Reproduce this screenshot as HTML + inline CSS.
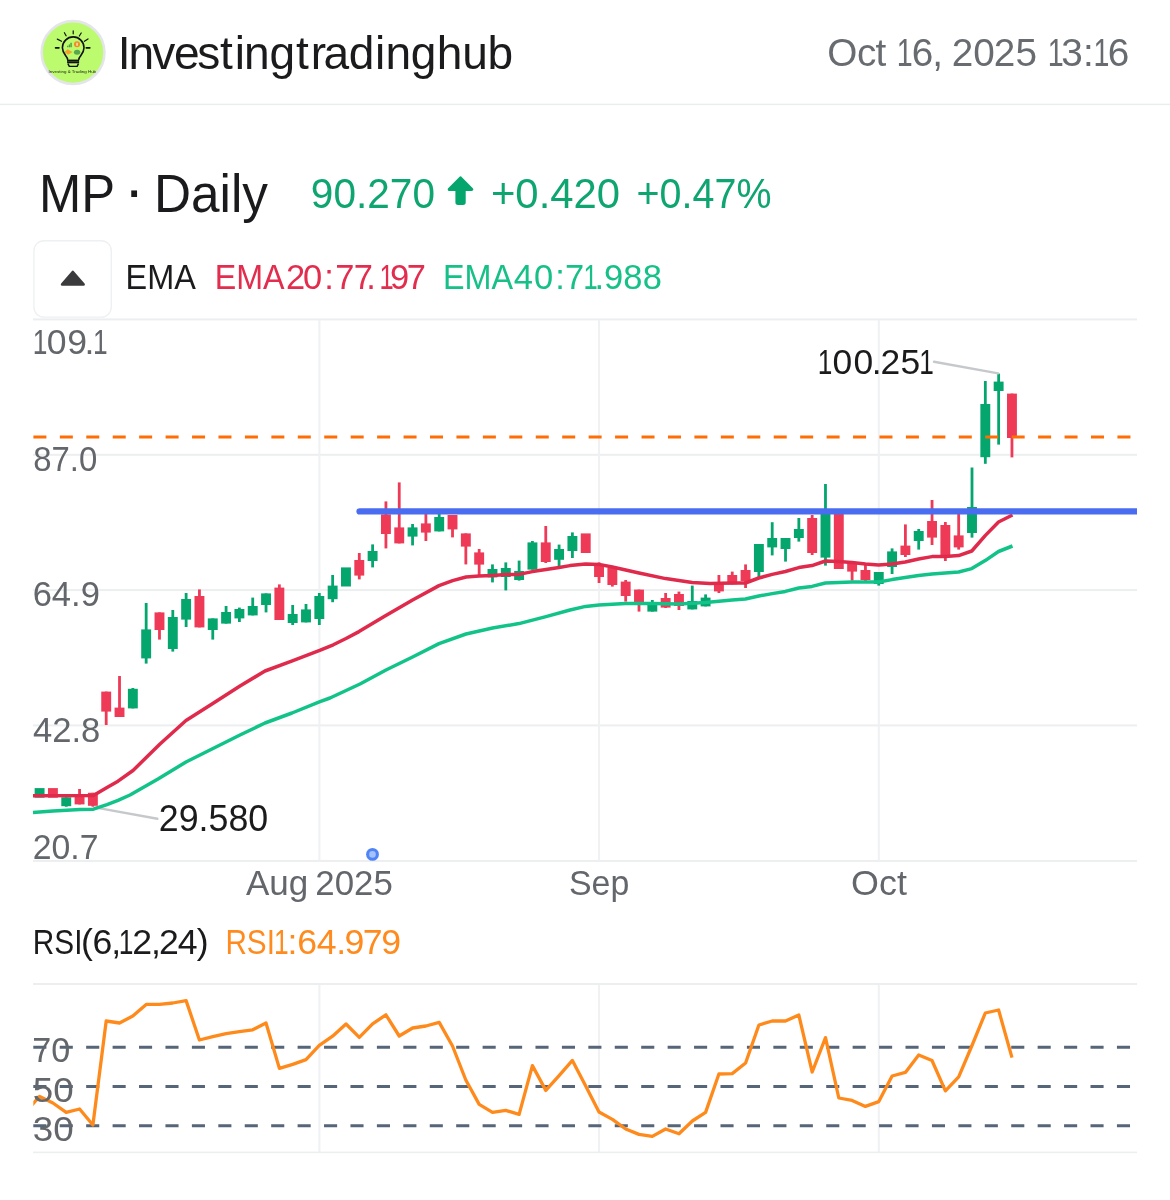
<!DOCTYPE html>
<html lang="en"><head><meta charset="utf-8"><title>MP Daily chart</title>
<style>html,body{margin:0;padding:0;background:#fff}body{width:1170px;height:1200px;overflow:hidden}svg{display:block}text{font-family:"Liberation Sans",sans-serif}</style>
</head><body>
<svg width="1170" height="1200" viewBox="0 0 1170 1200">
<rect width="1170" height="1200" fill="#fff"/>
<rect x="0" y="103.65" width="1170" height="1.5" fill="#eaedef"/>
<g>
<circle cx="73.05" cy="52.55" r="31.4" fill="#bdfb6e" stroke="#e3e5e8" stroke-width="2.6"/>
<g stroke="#111" stroke-linecap="round" fill="none">
<path d="M73.2 30.8V33.8M64.4 32.7L66.1 35.8M81.2 33L79.3 36M57.3 39.1L61.5 41.3M88 38.9L84.4 41.3" stroke-width="1.2"/>
<path d="M55.6 47.8H58.9M86.3 47.8H89.8" stroke-width="1.7"/>
<path d="M67.6 59.3C67.3 56.3 62.4 53.9 62.4 47.7A10.8 10.8 0 0 1 84 47.7C84 53.9 79.1 56.3 78.8 59.3" stroke-width="1.6"/>
</g>
<rect x="67.1" y="59.6" width="12" height="3.7" fill="#111"/>
<rect x="67.6" y="61.25" width="11" height="0.4" fill="#5d8f36"/>
<path d="M67.9 63.6L69.3 66.4H77.100L78.500 63.600" stroke="#111" stroke-width="1.4" stroke-linejoin="round" fill="none"/>
<path d="M67.2 47.300V45.700H68.300V47.300ZM68.800 47.300V44.400H69.900V47.300ZM70.400 47.300V42.800H71.700V47.300Z" fill="#3f8f3a"/>
<circle cx="77.000" cy="44.300" r="3.000" fill="#f58a1f"/>
<rect x="76.500" y="42.800" width="1.100" height="3.000" fill="#fff"/>
<path d="M64.500 52.000L67.600 49.300L72.500 52.000L68.000 54.800Z" fill="#f7a12a"/>
<ellipse cx="77.100" cy="52.200" rx="3.200" ry="2.500" fill="#57a84d"/>
<text x="48.600" y="73.100" font-size="3.500" fill="#1a1a1a" textLength="47.500" lengthAdjust="spacingAndGlyphs">Investing &amp; Trading Hub</text>
</g>

<rect x="33.9" y="240.7" width="77.4" height="76.4" rx="10" fill="#fff" stroke="#eef0f2" stroke-width="1.4"/>
<path d="M72.8 272.1 L62.2 284.4 L83.5 284.4 Z" fill="#3b3b3d" stroke="#3b3b3d" stroke-width="2.8" stroke-linejoin="round"/>
<g fill="#05a66e" stroke="#05a66e" stroke-linejoin="round"><path d="M460.5 178 L471.7 189.4 L449.3 189.4 Z" stroke-width="3.2"/><rect x="456.6" y="188" width="7.9" height="15.8" rx="1.5" stroke-width="2.4"/></g>
<rect x="33" y="318.40" width="1104" height="2.0" fill="#eceef0"/>
<rect x="33" y="453.80" width="1104" height="2.0" fill="#eceef0"/>
<rect x="33" y="589.10" width="1104" height="2.0" fill="#eceef0"/>
<rect x="33" y="724.40" width="1104" height="2.0" fill="#eceef0"/>
<rect x="33" y="859.90" width="1104" height="2.0" fill="#eceef0"/>
<rect x="318.40" y="319.4" width="2.0" height="541.50" fill="#eff1f3"/>
<rect x="318.40" y="984" width="2.0" height="168.40" fill="#eff1f3"/>
<rect x="598.00" y="319.4" width="2.0" height="541.50" fill="#eff1f3"/>
<rect x="598.00" y="984" width="2.0" height="168.40" fill="#eff1f3"/>
<rect x="877.80" y="319.4" width="2.0" height="541.50" fill="#eff1f3"/>
<rect x="877.80" y="984" width="2.0" height="168.40" fill="#eff1f3"/>
<rect x="33" y="983.00" width="1104" height="2.0" fill="#eceef0"/>
<rect x="33" y="1151.60" width="1104" height="1.6" fill="#eceef0"/>
<text y="65.50" font-size="38.71" fill="#686b70"><tspan x="827.31 857.00 875.43 903.61">Oct </tspan><tspan x="896.68" textLength="15.93" lengthAdjust="spacingAndGlyphs">1</tspan><tspan x="911.83 932.31 960.50 951.77 973.13 993.67 1015.58 1054.54">6, 2025 </tspan><tspan x="1047.68" textLength="15.93" lengthAdjust="spacingAndGlyphs">1</tspan><tspan x="1061.31 1083.12">3:</tspan><tspan x="1093.38" textLength="15.93" lengthAdjust="spacingAndGlyphs">1</tspan><tspan x="1107.73">6</tspan></text>
<text y="68.90" font-size="46.09" fill="#1b1b1d"><tspan x="117.75 128.43 152.29 174.02 197.29 220.02 234.64 244.03 269.48 296.12 310.87 323.57 348.70 374.89 385.43 410.83 436.68 462.24 487.48">Investingtradinghub</tspan></text>
<text y="353.60" font-size="35.57" fill="#63666b"><tspan x="32.74" textLength="14.64" lengthAdjust="spacingAndGlyphs">1</tspan><tspan x="46.81 67.29 84.60">09.</tspan><tspan x="93.04" textLength="14.64" lengthAdjust="spacingAndGlyphs">1</tspan></text>
<text y="289.20" font-size="34.49" fill="#1b1b1d"><tspan x="125.54" textLength="70.25" lengthAdjust="spacingAndGlyphs">EMA</tspan></text>
<text y="289.20" font-size="34.49" fill="#e22d4e"><tspan x="214.76" textLength="69.88" lengthAdjust="spacingAndGlyphs">EMA</tspan><tspan x="285.92 303.07 324.25 335.20 353.65 366.30">20:77.</tspan><tspan x="379.53" textLength="14.20" lengthAdjust="spacingAndGlyphs">1</tspan><tspan x="390.11 406.85">97</tspan></text>
<text y="289.20" font-size="34.49" fill="#16c088"><tspan x="443.05" textLength="70.09" lengthAdjust="spacingAndGlyphs">EMA</tspan><tspan x="513.72 534.12 555.35 564.90">40:7</tspan><tspan x="583.38" textLength="14.20" lengthAdjust="spacingAndGlyphs">1</tspan><tspan x="594.50 603.91 623.36 642.81">.988</tspan></text>
<text y="954.20" font-size="35.65" fill="#1b1b1d"><tspan x="32.81" textLength="49.66" lengthAdjust="spacingAndGlyphs">RSI</tspan><tspan x="81.04 92.40 111.19">(6,</tspan><tspan x="118.81" textLength="14.67" lengthAdjust="spacingAndGlyphs">1</tspan><tspan x="132.15 150.94 159.10 177.76 196.81">2,24)</tspan></text>
<text y="954.20" font-size="35.65" fill="#ff8b1e"><tspan x="225.42" textLength="49.50" lengthAdjust="spacingAndGlyphs">RSI</tspan><tspan x="274.11" textLength="14.67" lengthAdjust="spacingAndGlyphs">1</tspan><tspan x="287.50 297.20 316.81 336.35 344.42 362.79 381.17">:64.979</tspan></text>
<text fill="#1b1b1d"><tspan x="39.02" y="211.90" font-size="52.90" textLength="76.06" lengthAdjust="spacingAndGlyphs">MP</tspan><tspan> </tspan><tspan x="124.04" y="210.48" font-size="61.00">·</tspan><tspan> </tspan><tspan x="153.97" y="211.90" font-size="52.90" textLength="114.03" lengthAdjust="spacingAndGlyphs">Daily</tspan></text>
<text fill="#63666b"><tspan x="246.01" y="895.10" font-size="35.06" textLength="62.31" lengthAdjust="spacingAndGlyphs">Aug</tspan><tspan> </tspan><tspan x="315.34" y="895.10" font-size="35.29" textLength="77.52" lengthAdjust="spacingAndGlyphs">2025</tspan></text>
<text x="310.84" y="208.40" font-size="43.29" fill="#0ea570" textLength="124.15" lengthAdjust="spacingAndGlyphs">90.270</text>
<text x="490.94" y="208.40" font-size="43.29" fill="#0ea570" textLength="129.16" lengthAdjust="spacingAndGlyphs">+0.420</text>
<text x="636.56" y="208.40" font-size="43.29" fill="#0ea570" textLength="134.91" lengthAdjust="spacingAndGlyphs">+0.47%</text>
<text x="33.19" y="470.80" font-size="35.51" fill="#63666b" textLength="64.02" lengthAdjust="spacingAndGlyphs">87.0</text>
<text x="32.63" y="606.30" font-size="35.57" fill="#63666b" textLength="67.29" lengthAdjust="spacingAndGlyphs">64.9</text>
<text x="32.91" y="741.60" font-size="35.51" fill="#63666b" textLength="67.37" lengthAdjust="spacingAndGlyphs">42.8</text>
<text x="32.70" y="858.85" font-size="35.93" fill="#63666b" textLength="65.75" lengthAdjust="spacingAndGlyphs">20.7</text>
<text x="569.04" y="895.20" font-size="35.29" fill="#63666b" textLength="60.24" lengthAdjust="spacingAndGlyphs">Sep</text>
<text x="851.06" y="895.20" font-size="35.29" fill="#63666b" textLength="55.80" lengthAdjust="spacingAndGlyphs">Oct</text>
<g>
<rect x="34.65" y="788.1" width="9.9" height="9.6" fill="#04a66e"/>
<rect x="47.97" y="788.1" width="9.9" height="9.6" fill="#ee3a57"/>
<rect x="64.84" y="797.3" width="2.8" height="9.4" fill="#04a66e"/>
<rect x="61.29" y="797.3" width="9.9" height="8.9" fill="#04a66e"/>
<rect x="78.16" y="789.0" width="2.8" height="15.4" fill="#ee3a57"/>
<rect x="74.61" y="795.0" width="9.9" height="9.4" fill="#ee3a57"/>
<rect x="91.48" y="792.8" width="2.8" height="13.9" fill="#ee3a57"/>
<rect x="87.93" y="792.8" width="9.9" height="13.0" fill="#ee3a57"/>
<rect x="104.80" y="691.6" width="2.8" height="33.4" fill="#ee3a57"/>
<rect x="101.25" y="691.6" width="9.9" height="20.0" fill="#ee3a57"/>
<rect x="118.12" y="676.0" width="2.8" height="41.0" fill="#ee3a57"/>
<rect x="114.57" y="707.6" width="9.9" height="9.4" fill="#ee3a57"/>
<rect x="131.44" y="688.0" width="2.8" height="20.4" fill="#04a66e"/>
<rect x="127.89" y="688.8" width="9.9" height="19.6" fill="#04a66e"/>
<rect x="144.76" y="603.0" width="2.8" height="60.6" fill="#04a66e"/>
<rect x="141.21" y="629.4" width="9.9" height="29.0" fill="#04a66e"/>
<rect x="158.08" y="612.4" width="2.8" height="27.2" fill="#ee3a57"/>
<rect x="154.53" y="612.4" width="9.9" height="17.6" fill="#ee3a57"/>
<rect x="171.40" y="610.0" width="2.8" height="41.6" fill="#04a66e"/>
<rect x="167.85" y="617.0" width="9.9" height="32.0" fill="#04a66e"/>
<rect x="184.72" y="593.0" width="2.8" height="34.0" fill="#04a66e"/>
<rect x="181.17" y="599.0" width="9.9" height="20.6" fill="#04a66e"/>
<rect x="198.04" y="589.4" width="2.8" height="38.0" fill="#ee3a57"/>
<rect x="194.49" y="596.0" width="9.9" height="31.4" fill="#ee3a57"/>
<rect x="211.36" y="618.4" width="2.8" height="21.2" fill="#04a66e"/>
<rect x="207.81" y="618.4" width="9.9" height="11.6" fill="#04a66e"/>
<rect x="224.68" y="606.0" width="2.8" height="17.6" fill="#04a66e"/>
<rect x="221.13" y="612.0" width="9.9" height="11.6" fill="#04a66e"/>
<rect x="238.00" y="607.6" width="2.8" height="14.4" fill="#04a66e"/>
<rect x="234.45" y="609.0" width="9.9" height="9.4" fill="#04a66e"/>
<rect x="251.32" y="597.6" width="2.8" height="17.8" fill="#04a66e"/>
<rect x="247.77" y="606.0" width="9.9" height="9.4" fill="#04a66e"/>
<rect x="264.64" y="593.4" width="2.8" height="19.0" fill="#04a66e"/>
<rect x="261.09" y="593.4" width="9.9" height="11.6" fill="#04a66e"/>
<rect x="277.96" y="584.4" width="2.8" height="35.6" fill="#ee3a57"/>
<rect x="274.41" y="587.6" width="9.9" height="32.4" fill="#ee3a57"/>
<rect x="291.28" y="605.0" width="2.8" height="20.0" fill="#04a66e"/>
<rect x="287.73" y="614.0" width="9.9" height="9.0" fill="#04a66e"/>
<rect x="304.60" y="604.0" width="2.8" height="18.4" fill="#04a66e"/>
<rect x="301.05" y="609.4" width="9.9" height="13.0" fill="#04a66e"/>
<rect x="317.92" y="593.0" width="2.8" height="32.0" fill="#04a66e"/>
<rect x="314.37" y="596.0" width="9.9" height="23.0" fill="#04a66e"/>
<rect x="331.24" y="575.0" width="2.8" height="27.2" fill="#04a66e"/>
<rect x="327.69" y="585.6" width="9.9" height="13.6" fill="#04a66e"/>
<rect x="341.01" y="567.4" width="9.9" height="19.1" fill="#04a66e"/>
<rect x="357.88" y="553.0" width="2.8" height="26.4" fill="#ee3a57"/>
<rect x="354.33" y="560.0" width="9.9" height="15.6" fill="#ee3a57"/>
<rect x="371.20" y="544.4" width="2.8" height="23.0" fill="#04a66e"/>
<rect x="367.65" y="551.0" width="9.9" height="10.0" fill="#04a66e"/>
<rect x="384.52" y="501.4" width="2.8" height="47.0" fill="#ee3a57"/>
<rect x="380.97" y="514.4" width="9.9" height="19.6" fill="#ee3a57"/>
<rect x="397.84" y="482.4" width="2.8" height="61.0" fill="#ee3a57"/>
<rect x="394.29" y="527.4" width="9.9" height="16.0" fill="#ee3a57"/>
<rect x="411.16" y="524.0" width="2.8" height="21.4" fill="#04a66e"/>
<rect x="407.61" y="527.4" width="9.9" height="9.2" fill="#04a66e"/>
<rect x="424.48" y="514.0" width="2.8" height="27.0" fill="#ee3a57"/>
<rect x="420.93" y="523.4" width="9.9" height="9.2" fill="#ee3a57"/>
<rect x="437.80" y="514.0" width="2.8" height="17.4" fill="#04a66e"/>
<rect x="434.25" y="517.0" width="9.9" height="14.4" fill="#04a66e"/>
<rect x="451.12" y="515.0" width="2.8" height="22.4" fill="#ee3a57"/>
<rect x="447.57" y="515.0" width="9.9" height="14.4" fill="#ee3a57"/>
<rect x="464.44" y="533.4" width="2.8" height="31.0" fill="#ee3a57"/>
<rect x="460.89" y="533.4" width="9.9" height="13.2" fill="#ee3a57"/>
<rect x="477.76" y="549.0" width="2.8" height="27.0" fill="#ee3a57"/>
<rect x="474.21" y="552.4" width="9.9" height="12.2" fill="#ee3a57"/>
<rect x="491.08" y="564.4" width="2.8" height="18.0" fill="#04a66e"/>
<rect x="487.53" y="569.0" width="9.9" height="8.4" fill="#04a66e"/>
<rect x="504.40" y="562.4" width="2.8" height="28.0" fill="#04a66e"/>
<rect x="500.85" y="568.0" width="9.9" height="9.0" fill="#04a66e"/>
<rect x="517.72" y="560.6" width="2.8" height="20.0" fill="#04a66e"/>
<rect x="514.17" y="571.0" width="9.9" height="9.0" fill="#04a66e"/>
<rect x="531.04" y="541.0" width="2.8" height="28.6" fill="#04a66e"/>
<rect x="527.49" y="542.4" width="9.9" height="27.2" fill="#04a66e"/>
<rect x="544.36" y="526.0" width="2.8" height="37.0" fill="#ee3a57"/>
<rect x="540.81" y="542.4" width="9.9" height="19.6" fill="#ee3a57"/>
<rect x="557.68" y="544.6" width="2.8" height="21.4" fill="#04a66e"/>
<rect x="554.13" y="549.0" width="9.9" height="10.8" fill="#04a66e"/>
<rect x="571.00" y="532.4" width="2.8" height="25.6" fill="#04a66e"/>
<rect x="567.45" y="536.0" width="9.9" height="15.0" fill="#04a66e"/>
<rect x="580.77" y="533.4" width="9.9" height="19.6" fill="#ee3a57"/>
<rect x="597.64" y="562.4" width="2.8" height="20.6" fill="#ee3a57"/>
<rect x="594.09" y="564.0" width="9.9" height="13.0" fill="#ee3a57"/>
<rect x="610.96" y="568.0" width="2.8" height="18.6" fill="#ee3a57"/>
<rect x="607.41" y="568.0" width="9.9" height="17.0" fill="#ee3a57"/>
<rect x="624.28" y="580.0" width="2.8" height="21.6" fill="#ee3a57"/>
<rect x="620.73" y="581.6" width="9.9" height="14.4" fill="#ee3a57"/>
<rect x="637.60" y="589.6" width="2.8" height="22.0" fill="#ee3a57"/>
<rect x="634.05" y="589.6" width="9.9" height="15.4" fill="#ee3a57"/>
<rect x="650.92" y="600.0" width="2.8" height="11.6" fill="#04a66e"/>
<rect x="647.37" y="602.0" width="9.9" height="9.6" fill="#04a66e"/>
<rect x="664.24" y="593.0" width="2.8" height="15.0" fill="#ee3a57"/>
<rect x="660.69" y="598.0" width="9.9" height="9.6" fill="#ee3a57"/>
<rect x="677.56" y="591.6" width="2.8" height="18.4" fill="#ee3a57"/>
<rect x="674.01" y="594.0" width="9.9" height="12.0" fill="#ee3a57"/>
<rect x="690.88" y="585.6" width="2.8" height="23.8" fill="#04a66e"/>
<rect x="687.33" y="601.0" width="9.9" height="8.4" fill="#04a66e"/>
<rect x="704.20" y="594.4" width="2.8" height="12.0" fill="#04a66e"/>
<rect x="700.65" y="597.6" width="9.9" height="8.8" fill="#04a66e"/>
<rect x="717.52" y="575.0" width="2.8" height="18.0" fill="#ee3a57"/>
<rect x="713.97" y="582.0" width="9.9" height="9.4" fill="#ee3a57"/>
<rect x="730.84" y="571.6" width="2.8" height="12.8" fill="#ee3a57"/>
<rect x="727.29" y="575.0" width="9.9" height="9.4" fill="#ee3a57"/>
<rect x="744.16" y="564.4" width="2.8" height="23.6" fill="#ee3a57"/>
<rect x="740.61" y="570.0" width="9.9" height="11.0" fill="#ee3a57"/>
<rect x="757.48" y="544.0" width="2.8" height="34.0" fill="#04a66e"/>
<rect x="753.93" y="544.0" width="9.9" height="28.0" fill="#04a66e"/>
<rect x="770.80" y="522.2" width="2.8" height="33.2" fill="#04a66e"/>
<rect x="767.25" y="538.0" width="9.9" height="9.4" fill="#04a66e"/>
<rect x="784.12" y="538.0" width="2.8" height="23.6" fill="#04a66e"/>
<rect x="780.57" y="538.0" width="9.9" height="11.0" fill="#04a66e"/>
<rect x="797.44" y="518.0" width="2.8" height="23.6" fill="#04a66e"/>
<rect x="793.89" y="529.0" width="9.9" height="9.0" fill="#04a66e"/>
<rect x="810.76" y="515.0" width="2.8" height="40.0" fill="#ee3a57"/>
<rect x="807.21" y="518.0" width="9.9" height="35.0" fill="#ee3a57"/>
<rect x="824.08" y="484.0" width="2.8" height="81.6" fill="#04a66e"/>
<rect x="820.53" y="512.0" width="9.9" height="45.6" fill="#04a66e"/>
<rect x="833.85" y="514.0" width="9.9" height="55.0" fill="#ee3a57"/>
<rect x="850.72" y="562.0" width="2.8" height="18.6" fill="#ee3a57"/>
<rect x="847.17" y="562.0" width="9.9" height="9.6" fill="#ee3a57"/>
<rect x="864.04" y="565.0" width="2.8" height="18.0" fill="#ee3a57"/>
<rect x="860.49" y="570.0" width="9.9" height="10.0" fill="#ee3a57"/>
<rect x="877.36" y="572.0" width="2.8" height="13.6" fill="#04a66e"/>
<rect x="873.81" y="572.0" width="9.9" height="12.0" fill="#04a66e"/>
<rect x="890.68" y="548.4" width="2.8" height="25.6" fill="#04a66e"/>
<rect x="887.13" y="551.4" width="9.9" height="15.6" fill="#04a66e"/>
<rect x="904.00" y="524.4" width="2.8" height="32.6" fill="#ee3a57"/>
<rect x="900.45" y="545.6" width="9.9" height="9.4" fill="#ee3a57"/>
<rect x="917.32" y="529.0" width="2.8" height="20.6" fill="#04a66e"/>
<rect x="913.77" y="531.0" width="9.9" height="10.0" fill="#04a66e"/>
<rect x="930.64" y="500.0" width="2.8" height="45.0" fill="#ee3a57"/>
<rect x="927.09" y="521.0" width="9.9" height="16.6" fill="#ee3a57"/>
<rect x="943.96" y="522.0" width="2.8" height="39.0" fill="#ee3a57"/>
<rect x="940.41" y="525.0" width="9.9" height="32.0" fill="#ee3a57"/>
<rect x="957.28" y="514.0" width="2.8" height="35.6" fill="#ee3a57"/>
<rect x="953.73" y="535.4" width="9.9" height="12.0" fill="#ee3a57"/>
<rect x="970.60" y="467.5" width="2.8" height="70.1" fill="#04a66e"/>
<rect x="967.05" y="507.0" width="9.9" height="26.0" fill="#04a66e"/>
<rect x="983.92" y="381.0" width="2.8" height="82.8" fill="#04a66e"/>
<rect x="980.37" y="404.0" width="9.9" height="53.2" fill="#04a66e"/>
<rect x="997.24" y="373.6" width="2.8" height="71.0" fill="#04a66e"/>
<rect x="993.69" y="381.6" width="9.9" height="9.4" fill="#04a66e"/>
<rect x="1010.56" y="393.6" width="2.8" height="63.8" fill="#ee3a57"/>
<rect x="1007.01" y="393.6" width="9.9" height="44.4" fill="#ee3a57"/>
</g>
<g stroke="#c6c9cc" stroke-width="2.4" stroke-linecap="round"><line x1="934" y1="361.8" x2="998.2" y2="373.4"/><line x1="96" y1="807.6" x2="157.4" y2="818.7"/></g>
<text y="374.20" font-size="35.43" fill="#1b1b1d"><tspan x="817.66" textLength="14.58" lengthAdjust="spacingAndGlyphs">1</tspan><tspan x="832.55 853.55 871.77 880.46 900.59">00.25</tspan><tspan x="919.26" textLength="14.58" lengthAdjust="spacingAndGlyphs">1</tspan></text>
<text x="158.80" y="830.60" font-size="36.29" fill="#1b1b1d" textLength="109.38" lengthAdjust="spacingAndGlyphs">29.580</text>
<polyline fill="none" stroke="#12c389" stroke-width="3.5" stroke-linejoin="round" stroke-linecap="butt" points="33.0,812.5 53.0,811.0 80.0,809.6 93.4,809.2 107.0,804.6 118.0,800.4 130.0,795.0 158.0,779.0 186.0,762.0 212.0,749.0 240.0,735.0 265.0,723.0 292.0,713.0 320.0,701.6 330.0,698.0 360.0,684.0 386.0,670.0 412.6,657.0 439.0,643.6 466.0,634.0 492.6,628.0 519.0,623.6 546.0,616.6 570.0,610.0 585.6,606.4 599.0,605.0 625.6,603.6 652.0,603.6 679.0,604.0 705.6,602.4 732.2,600.0 745.4,599.0 758.8,596.0 772.2,593.6 785.4,591.4 798.8,588.0 812.0,586.4 825.4,583.0 852.0,582.0 878.6,582.0 892.0,579.6 905.2,577.6 918.6,575.6 932.0,574.0 945.2,573.0 958.6,572.0 971.8,568.6 985.2,560.6 998.5,551.5 1012.5,546.0"/>
<polyline fill="none" stroke="#df2a4c" stroke-width="3.5" stroke-linejoin="round" stroke-linecap="butt" points="33.0,795.7 93.4,795.4 107.0,787.5 118.0,781.2 133.0,770.5 160.0,744.0 186.0,720.5 212.0,704.0 240.0,686.0 265.0,671.0 292.3,660.9 319.7,650.4 333.3,644.8 346.0,638.5 359.0,631.6 385.0,616.0 412.6,600.0 439.0,585.6 452.6,580.6 466.0,577.0 479.0,576.0 492.6,575.4 506.0,574.6 519.0,574.4 532.4,571.6 546.0,569.6 559.0,567.5 570.0,565.6 585.6,564.0 599.0,564.4 612.4,567.0 639.0,573.0 665.6,578.6 692.2,582.4 710.0,583.6 732.2,583.0 745.4,583.0 758.8,578.0 772.2,574.4 785.4,571.5 798.8,567.6 812.0,565.6 825.4,561.0 838.6,561.6 852.0,562.4 865.4,564.0 878.6,565.0 892.0,564.0 905.2,562.0 918.6,559.0 932.0,556.6 945.2,556.6 958.6,555.6 971.8,551.0 985.2,535.6 998.5,522.0 1012.5,515.0"/>
<path d="M359.5 508.3H1137V514.5H359.5A3.1 3.1 0 0 1 359.5 508.3Z" fill="#4a6cf1"/>
<line x1="33.4" y1="437" x2="1137" y2="437" stroke="#ff6d05" stroke-width="2.9" stroke-dasharray="13 13.44"/>
<circle cx="372.5" cy="854.4" r="6.4" fill="#4f84f7"/><circle cx="372.5" cy="854.4" r="3.3" fill="#a6c1fc"/>
<line x1="33.3" y1="1047.2" x2="1137" y2="1047.2" stroke="#576579" stroke-width="3.1" stroke-dasharray="13.1 13.33"/>
<line x1="33.3" y1="1086.5" x2="1137" y2="1086.5" stroke="#576579" stroke-width="3.1" stroke-dasharray="13.1 13.33"/>
<line x1="33.3" y1="1125.7" x2="1137" y2="1125.7" stroke="#576579" stroke-width="3.1" stroke-dasharray="13.1 13.33"/>
<clipPath id="cl"><rect x="33.3" y="980" width="1104" height="175"/></clipPath><g clip-path="url(#cl)">
<polyline fill="none" stroke="#ff8a1c" stroke-width="3.3" stroke-linejoin="round" stroke-linecap="butt" points="26.5,1111.0 39.6,1096.4 52.9,1103.0 66.2,1112.4 79.6,1109.0 92.9,1125.0 106.2,1021.0 119.5,1023.0 132.8,1016.0 146.2,1004.4 159.5,1004.4 172.8,1003.0 186.1,1000.6 199.4,1040.0 212.8,1036.6 226.1,1033.6 239.4,1031.6 252.7,1029.8 266.0,1023.0 279.4,1068.4 292.7,1064.4 306.0,1059.6 319.3,1045.4 332.6,1036.2 346.0,1024.0 359.3,1037.4 372.6,1023.8 385.9,1014.8 399.2,1036.0 412.6,1028.0 425.9,1026.0 439.2,1022.4 452.5,1046.0 465.8,1080.0 479.2,1104.4 492.5,1112.4 505.8,1110.4 519.1,1114.4 532.4,1065.6 545.8,1090.4 559.1,1075.6 572.4,1060.4 585.7,1086.0 599.0,1112.0 612.4,1119.4 625.7,1129.0 639.0,1134.4 652.3,1136.4 665.6,1129.0 679.0,1133.8 692.3,1121.0 705.6,1112.4 718.9,1074.0 732.2,1073.6 745.6,1063.0 758.9,1025.0 772.2,1021.0 785.5,1021.0 798.8,1015.0 812.2,1072.0 825.5,1037.6 838.8,1098.0 852.1,1100.4 865.4,1106.4 878.8,1101.6 892.1,1076.0 905.4,1072.4 918.7,1055.0 932.0,1060.5 945.4,1090.9 958.7,1076.8 972.0,1045.5 985.3,1013.0 998.6,1010.0 1012.0,1057.6"/>
</g>
<text x="32.15" y="1062.00" font-size="35.71" fill="#63666b" textLength="38.01" lengthAdjust="spacingAndGlyphs">70</text>
<text x="32.89" y="1101.60" font-size="35.71" fill="#63666b" textLength="40.88" lengthAdjust="spacingAndGlyphs">50</text>
<text x="32.67" y="1140.80" font-size="34.71" fill="#63666b" textLength="40.96" lengthAdjust="spacingAndGlyphs">30</text>
</svg></body></html>
